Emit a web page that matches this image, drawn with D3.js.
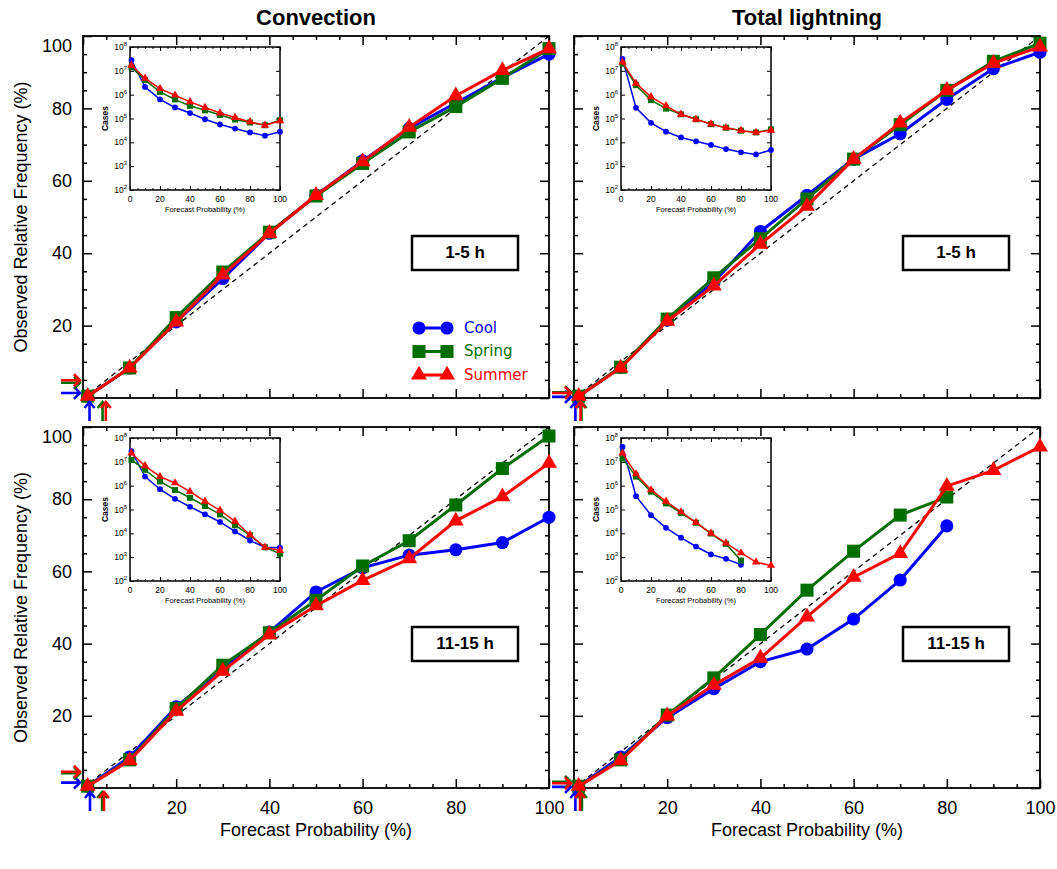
<!DOCTYPE html>
<html>
<head>
<meta charset="utf-8">
<script src="https://cdn.jsdelivr.net/npm/d3@7"></script>
<style>
  body { margin: 0; background: #fff; }
  svg { display: block; }
</style>
</head>
<body>
<script>
// Forecast probability bins (%)
const probBins = [1, 10, 20, 30, 40, 50, 60, 70, 80, 90, 100];
const seasons = ["Cool", "Spring", "Summer"];
const colTitles = ["Convection", "Total lightning"];
const leadLabels = ["1-5 h", "11-15 h"];
const xTickLabels = ["", "20", "40", "60", "80", "100"];
const yTickLabels = ["", "20", "40", "60", "80", "100"];
const insetXLabels = ["0", "20", "40", "60", "80", "100"];
const insetYExp = [2, 3, 4, 5, 6, 7, 8];

// Observed relative frequency (%) - convection, 1-5 h
const convEarlyCool = [0.5, 8.3, 21, 33, 45.5, 56, 65.5, 74.5, 81.5, 88.5, 95];
const convEarlySpring = [0.5, 8.3, 22.2, 34.8, 45.8, 55.8, 64.8, 73.5, 80.5, 88.3, 96.5];
const convEarlySummer = [0.5, 8.3, 21, 34, 45.5, 56, 65.3, 74.8, 83.5, 90.5, 96.5];
// total lightning, 1-5 h
const ltgEarlyCool = [0.5, 8.5, 21.5, 32, 46, 56, 66, 73, 82.5, 91, 95.5];
const ltgEarlySpring = [0.5, 8.5, 21.8, 33.2, 44, 55, 66, 75.5, 85, 93, 98];
const ltgEarlySummer = [0.5, 8.3, 21.2, 31, 42.5, 53, 66, 76, 85, 92.5, 97];
// convection, 11-15 h
const convLateCool = [0.5, 8.6, 22.5, 33, 43.2, 54.3, 61, 64.5, 66, 68, 75];
const convLateSpring = [0.5, 7.8, 22, 34, 43, 52, 61.5, 68.5, 78.4, 88.5, 97.5];
const convLateSummer = [0.5, 7.6, 21.3, 32.4, 42.5, 50.5, 57.5, 63.5, 74, 80.7, 90];
// total lightning, 11-15 h
const ltgLateCool = [0.5, 8.6, 19.5, 27.5, 35, 38.5, 46.8, 57.6, 72.6];
const ltgLateSpring = [0.5, 7.8, 20.2, 30.5, 42.5, 54.8, 65.6, 75.6, 80.6];
const ltgLateSummer = [0.5, 7.6, 20, 28.5, 36, 47.4, 58.4, 65, 83.6, 88, 94.5];

// Number of cases per bin (insets)
const casesConvEarlyCool = [2.8e7, 2.1e6, 6.3e5, 2.9e5, 1.7e5, 9.3e4, 5.6e4, 3.8e4, 2.6e4, 1.9e4, 2.8e4];
const casesConvEarlySpring = [1.4e7, 4.1e6, 1.3e6, 6.3e5, 3.4e5, 2.2e5, 1.4e5, 9.1e4, 6.8e4, 5.2e4, 8.5e4];
const casesConvEarlySummer = [1.7e7, 4.8e6, 1.8e6, 9.5e5, 5.0e5, 2.9e5, 1.7e5, 1.1e5, 7.2e4, 5.2e4, 7.9e4];
const casesLtgEarlyCool = [3.2e7, 2.8e5, 6.6e4, 2.8e4, 1.6e4, 1.1e4, 7.8e3, 5.2e3, 3.8e3, 3.1e3, 4.8e3];
const casesLtgEarlySpring = [2.0e7, 2.5e6, 5.9e5, 2.6e5, 1.5e5, 9.3e4, 5.8e4, 4.1e4, 3.1e4, 2.6e4, 3.5e4];
const casesLtgEarlySummer = [2.3e7, 3.0e6, 8.1e5, 3.4e5, 1.5e5, 9.3e4, 5.8e4, 4.1e4, 3.1e4, 2.6e4, 3.2e4];
const casesConvLateCool = [2.8e7, 2.4e6, 7.1e5, 2.8e5, 1.3e5, 6.3e4, 3.0e4, 1.2e4, 5.0e3, 2.6e3, 2.5e3];
const casesConvLateSpring = [1.2e7, 4.6e6, 1.5e6, 6.6e5, 3.1e5, 1.4e5, 6.2e4, 2.2e4, 8.3e3, 2.6e3, 1.4e3];
const casesConvLateSummer = [2.3e7, 6.8e6, 2.4e6, 1.3e6, 5.6e5, 2.2e5, 9.3e4, 3.2e4, 8.7e3, 2.6e3, 1.9e3];
const casesLtgLateCool = [4.2e7, 3.6e5, 5.8e4, 1.7e4, 6.6e3, 2.8e3, 1.3e3, 8.5e2, 4.8e2];
const casesLtgLateSpring = [1.4e7, 2.4e6, 5.6e5, 1.8e5, 7.2e4, 2.8e4, 9.8e3, 3.6e3, 7.2e2];
const casesLtgLateSummer = [2.3e7, 3.1e6, 6.6e5, 2.2e5, 7.9e4, 2.8e4, 1.0e4, 3.9e3, 1.5e3, 6.2e2, 4.5e2];

// Sample climatology (%) marked by arrows: cool, spring, summer
const climConvEarly = [1.4, 4.2, 4.9];
const climLtgEarly = [0.3, 1.6, 1.4];
const climConvLate = [1.5, 4.1, 4.5];
const climLtgLate = [0.3, 1.7, 1.3];

const colors = ["#0000ff", "#006e00", "#ff0000"];
const symbols = [d3.symbolCircle, d3.symbolSquare, d3.symbolTriangle];
const mainSizes = [135, 170, 110];
const insetSizes = [26, 36, 30];

const width = 1057, height = 869;
const colX = [[83, 549], [574, 1040]];
const rowY = [[398, 36], [788, 427]];

const panels = [
  { row: 0, col: 0, obs: [convEarlyCool, convEarlySpring, convEarlySummer], cases: [casesConvEarlyCool, casesConvEarlySpring, casesConvEarlySummer], clim: climConvEarly },
  { row: 0, col: 1, obs: [ltgEarlyCool, ltgEarlySpring, ltgEarlySummer], cases: [casesLtgEarlyCool, casesLtgEarlySpring, casesLtgEarlySummer], clim: climLtgEarly },
  { row: 1, col: 0, obs: [convLateCool, convLateSpring, convLateSummer], cases: [casesConvLateCool, casesConvLateSpring, casesConvLateSummer], clim: climConvLate },
  { row: 1, col: 1, obs: [ltgLateCool, ltgLateSpring, ltgLateSummer], cases: [casesLtgLateCool, casesLtgLateSpring, casesLtgLateSummer], clim: climLtgLate }
];

const svg = d3.select("body").append("svg")
  .attr("width", width)
  .attr("height", height)
  .style("font-family", "'Liberation Sans', Arial, sans-serif");

function styleAxis(g, fontSize) {
  g.select(".domain").remove();
  g.selectAll("line").attr("stroke", "#000").attr("stroke-width", 1.5);
  g.selectAll("text").attr("fill", "#000").style("font-size", fontSize + "px")
    .style("font-family", "'Liberation Sans', Arial, sans-serif");
}

function drawPanel(p) {
  const x = d3.scaleLinear().domain([0, 100]).range(colX[p.col]);
  const y = d3.scaleLinear().domain([0, 100]).range(rowY[p.row]);
  const left = colX[p.col][0], right = colX[p.col][1];
  const bottom = rowY[p.row][0], top = rowY[p.row][1];
  const g = svg.append("g");
  const majors = d3.range(0, 101, 20);
  const minors = d3.range(0, 101, 5).filter(d => d % 20 !== 0);

  // minor ticks on all sides (inward)
  [[d3.axisBottom(x), `translate(0,${bottom})`, -4], [d3.axisTop(x), `translate(0,${top})`, -4],
   [d3.axisLeft(y), `translate(${left},0)`, -4], [d3.axisRight(y), `translate(${right},0)`, -4]]
    .forEach(([ax, tr, s]) => {
      g.append("g").attr("transform", tr)
        .call(ax.tickValues(minors).tickSize(s).tickSizeOuter(0).tickFormat(""))
        .call(a => styleAxis(a, 10));
    });

  // major ticks
  g.append("g").attr("transform", `translate(0,${bottom})`)
    .call(d3.axisBottom(x).tickValues(majors).tickSize(-9).tickSizeOuter(0).tickPadding(13)
      .tickFormat((d, i) => p.row === 1 ? xTickLabels[i] : ""))
    .call(a => styleAxis(a, 18));
  g.append("g").attr("transform", `translate(0,${top})`)
    .call(d3.axisTop(x).tickValues(majors).tickSize(-9).tickSizeOuter(0).tickFormat(""))
    .call(a => styleAxis(a, 18));
  g.append("g").attr("transform", `translate(${left},0)`)
    .call(d3.axisLeft(y).tickValues(majors).tickSize(-9).tickSizeOuter(0).tickPadding(11)
      .tickFormat((d, i) => p.col === 0 ? yTickLabels[i] : ""))
    .call(a => styleAxis(a, 18))
    .call(a => a.selectAll("text").attr("dy", d => d === 100 ? "0.85em" : "0.32em"));
  g.append("g").attr("transform", `translate(${right},0)`)
    .call(d3.axisRight(y).tickValues(majors).tickSize(-9).tickSizeOuter(0).tickFormat(""))
    .call(a => styleAxis(a, 18));

  // frame
  g.append("rect")
    .attr("x", left).attr("y", top)
    .attr("width", right - left).attr("height", bottom - top)
    .attr("fill", "none").attr("stroke", "#000").attr("stroke-width", 1.8);

  // perfect reliability line
  g.append("line")
    .attr("x1", x(0)).attr("y1", y(0)).attr("x2", x(100)).attr("y2", y(100))
    .attr("stroke", "#000").attr("stroke-width", 1.3).attr("stroke-dasharray", "5,4");

  // series
  const line = d3.line().x(d => x(d[0])).y(d => y(d[1]));
  p.obs.forEach((vals, s) => {
    const pts = vals.map((v, i) => [probBins[i], v]);
    g.append("path").datum(pts)
      .attr("d", line).attr("fill", "none")
      .attr("stroke", colors[s]).attr("stroke-width", 3);
    g.selectAll(null).data(pts).enter().append("path")
      .attr("transform", d => `translate(${x(d[0])},${y(d[1])})`)
      .attr("d", d3.symbol().type(symbols[s]).size(mainSizes[s]))
      .attr("fill", colors[s]);
  });

  // climatology arrows
  p.clim.forEach((c, s) => {
    const yy = y(c), xx = x(c);
    const ra = g.append("g").attr("stroke", colors[s]).attr("stroke-width", 2.6).attr("fill", "none");
    ra.append("path").attr("d", `M${left - 22},${yy}H${left - 3}M${left - 9},${yy - 6}L${left - 3},${yy}L${left - 9},${yy + 6}`);
    ra.append("path").attr("d", `M${xx},${bottom + 23}V${bottom + 4}M${xx - 5},${bottom + 10}L${xx},${bottom + 4}L${xx + 5},${bottom + 10}`);
  });

  // lead time box
  const bx = right - 137, by = top + 200;
  g.append("rect").attr("x", bx).attr("y", by).attr("width", 106).attr("height", 34)
    .attr("fill", "#fff").attr("stroke", "#000").attr("stroke-width", 2.5);
  g.append("text").attr("x", bx + 53).attr("y", by + 18)
    .attr("text-anchor", "middle").attr("dominant-baseline", "middle")
    .style("font-size", "17px").style("font-weight", "bold")
    .text(leadLabels[p.row]);

  drawInset(p, left + 47, top + 11);
}

function drawInset(p, ix, iy) {
  const w = 150, h = 143;
  const x = d3.scaleLinear().domain([0, 100]).range([ix, ix + w]);
  const y = d3.scaleLog().domain([1e2, 1e8]).range([iy + h, iy]);
  const g = svg.append("g");
  g.append("rect").attr("x", ix).attr("y", iy).attr("width", w).attr("height", h)
    .attr("fill", "#fff").attr("stroke", "#000").attr("stroke-width", 1.5);

  const xt = d3.range(0, 101, 20);
  const xm = d3.range(0, 101, 5).filter(d => d % 20 !== 0);
  [[d3.axisBottom(x), iy + h], [d3.axisTop(x), iy]].forEach(([ax, t]) => {
    g.append("g").attr("transform", `translate(0,${t})`)
      .call(ax.tickValues(xm).tickSize(-2).tickSizeOuter(0).tickFormat(""))
      .call(a => styleAxis(a, 8)).call(a => a.selectAll("line").attr("stroke-width", 1));
    g.append("g").attr("transform", `translate(0,${t})`)
      .call(ax.tickValues(xt).tickSize(-4).tickSizeOuter(0).tickFormat(""))
      .call(a => styleAxis(a, 8)).call(a => a.selectAll("line").attr("stroke-width", 1));
  });
  const yv = insetYExp.map(e => Math.pow(10, e));
  [[d3.axisLeft(y), ix], [d3.axisRight(y), ix + w]].forEach(([ax, t]) => {
    g.append("g").attr("transform", `translate(${t},0)`)
      .call(ax.tickValues(yv).tickSize(-4).tickSizeOuter(0).tickFormat(""))
      .call(a => styleAxis(a, 8)).call(a => a.selectAll("line").attr("stroke-width", 1));
  });

  // tick labels
  g.selectAll(null).data(xt).enter().append("text")
    .attr("x", d => x(d)).attr("y", iy + h + 12)
    .attr("text-anchor", "middle").style("font-size", "8.5px")
    .text((d, i) => insetXLabels[i]);
  g.append("text").attr("x", ix + w / 2).attr("y", iy + h + 22)
    .attr("text-anchor", "middle").style("font-size", "7.5px")
    .text("Forecast Probability (%)");
  const yl = g.selectAll(null).data(insetYExp).enter().append("text")
    .attr("x", ix - 3).attr("y", d => y(Math.pow(10, d)) + 3)
    .attr("text-anchor", "end").style("font-size", "8.5px");
  yl.append("tspan").text("10");
  yl.append("tspan").attr("dy", -4).style("font-size", "6px").text(d => d);
  g.append("text")
    .attr("transform", `translate(${ix - 22},${iy + h / 2}) rotate(-90)`)
    .attr("text-anchor", "middle").style("font-size", "8.5px").style("font-weight", "bold")
    .text("Cases");

  const line = d3.line().x(d => x(d[0])).y(d => y(d[1]));
  p.cases.forEach((vals, s) => {
    const pts = vals.map((v, i) => [probBins[i], v]);
    g.append("path").datum(pts).attr("d", line).attr("fill", "none")
      .attr("stroke", colors[s]).attr("stroke-width", 1.5);
    g.selectAll(null).data(pts).enter().append("path")
      .attr("transform", d => `translate(${x(d[0])},${y(d[1])})`)
      .attr("d", d3.symbol().type(symbols[s]).size(insetSizes[s]))
      .attr("fill", colors[s]);
  });
}

panels.forEach(drawPanel);

// legend (top-left panel)
const legend = svg.append("g");
seasons.forEach((name, s) => {
  const ly = 328 + s * 23.5;
  legend.append("line").attr("x1", 419).attr("x2", 447).attr("y1", ly).attr("y2", ly)
    .attr("stroke", colors[s]).attr("stroke-width", 3);
  [419, 447].forEach(lx => {
    legend.append("path").attr("transform", `translate(${lx},${ly})`)
      .attr("d", d3.symbol().type(symbols[s]).size(mainSizes[s]))
      .attr("fill", colors[s]);
  });
  legend.append("text").attr("x", 464).attr("y", ly)
    .attr("dominant-baseline", "middle")
    .style("font-family", "'DejaVu Sans', sans-serif").style("font-size", "15px")
    .attr("fill", colors[s]).text(name);
});

// column titles
colTitles.forEach((t, c) => {
  svg.append("text").attr("x", (colX[c][0] + colX[c][1]) / 2).attr("y", 19)
    .attr("text-anchor", "middle").attr("dominant-baseline", "middle")
    .style("font-size", "22px").style("font-weight", "bold").text(t);
  svg.append("text").attr("x", (colX[c][0] + colX[c][1]) / 2).attr("y", 831)
    .attr("text-anchor", "middle").attr("dominant-baseline", "middle")
    .style("font-size", "18px").text("Forecast Probability (%)");
});

// y axis titles
rowY.forEach(r => {
  svg.append("text")
    .attr("transform", `translate(22,${(r[0] + r[1]) / 2}) rotate(-90)`)
    .attr("text-anchor", "middle").attr("dominant-baseline", "middle")
    .style("font-size", "18px").text("Observed Relative Frequency (%)");
});
</script>
</body>
</html>
